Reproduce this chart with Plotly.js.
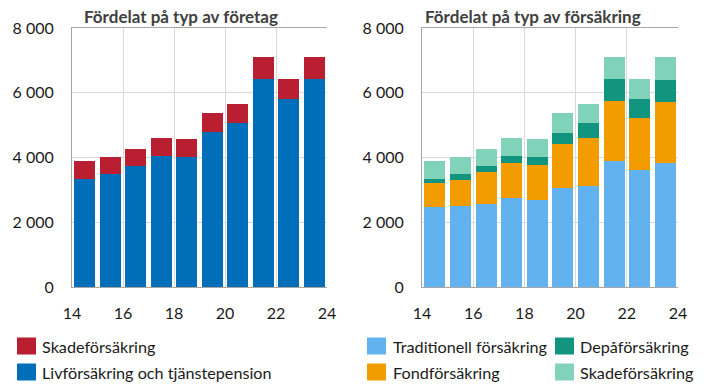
<!DOCTYPE html>
<html>
<head>
<meta charset="utf-8">
<script src="https://cdn.plot.ly/plotly-3.0.1.min.js"></script>
<style>
html,body{margin:0;padding:0;background:#fff;}
#chart{width:717px;height:392px;}
</style>
</head>
<body>
<div id="chart"></div>
<script>
// ---- data ----
const years = [2014, 2015, 2016, 2017, 2018, 2019, 2020, 2021, 2022, 2023];
const tickLabels = ['14', '16', '18', '20', '22', '24'];
const yTickValues = [0, 2000, 4000, 6000, 8000];
const yTickLabels = ['0', '2 000', '4 000', '6 000', '8 000'];

// Left: by type of company
const livTjanste = [3350, 3500, 3750, 4060, 4030, 4780, 5080, 6440, 5800, 6410];
const skadeForetag = [530, 510, 510, 550, 550, 580, 570, 670, 640, 680];

// Right: by type of insurance
const traditionell = [2460, 2500, 2550, 2740, 2700, 3070, 3130, 3890, 3600, 3840];
const fond = [750, 810, 990, 1100, 1070, 1350, 1460, 1860, 1620, 1880];
const depa = [140, 190, 210, 210, 260, 350, 480, 690, 580, 680];
const skadeForsakring = [530, 510, 510, 560, 550, 590, 580, 670, 640, 690];

const titleLeft = 'Fördelat på typ av företag';
const titleRight = 'Fördelat på typ av försäkring';

// ---- styles ----
const FONT = 'Lato, "Open Sans", sans-serif';
const C = {
  skadeF: '#B91F31', liv: '#006EB8',
  trad: '#62B2F0', fond: '#F39C00', depa: '#11957E', skade: '#80D2B8'
};

const W = 717, H = 392;
const px = v => v / W;
const py = v => 1 - v / H;

const leftDom = [px(72), px(327)];
const rightDom = [px(422), px(678)];
const yDom = [py(287), py(28)];

const tickVals = tickLabels.map(t => 2000 + Number(t) - 0.5);

function bar(y, name, color, xa, ya) {
  return { type: 'bar', x: years, y: y, name: name, xaxis: xa, yaxis: ya,
    marker: { color: color, line: { width: 0 } }, width: 0.82, showlegend: false,
    hoverinfo: 'x+y+name' };
}

const traces = [
  bar(livTjanste, 'Livförsäkring och tjänstepension', C.liv, 'x', 'y'),
  bar(skadeForetag, 'Skadeförsäkring', C.skadeF, 'x', 'y'),
  bar(traditionell, 'Traditionell försäkring', C.trad, 'x2', 'y2'),
  bar(fond, 'Fondförsäkring', C.fond, 'x2', 'y2'),
  bar(depa, 'Depåförsäkring', C.depa, 'x2', 'y2'),
  bar(skadeForsakring, 'Skadeförsäkring', C.skade, 'x2', 'y2')
];

function xAxis(dom, anchor) {
  return { domain: dom, anchor: anchor, range: [2013.5, 2023.5],
    tickvals: tickVals, ticktext: tickLabels, ticks: '',
    showgrid: true, gridcolor: '#d9d9d9', gridwidth: 1,
    showline: true, linecolor: '#a6a6a6', linewidth: 1, mirror: true,
    zeroline: false, ticklabelstandoff: 12,
    tickfont: { family: FONT, size: 16, color: '#1a1a1a' }, fixedrange: true };
}
function yAxis(anchor) {
  return { domain: yDom, anchor: anchor, range: [0, 8000],
    tickvals: yTickValues, ticktext: yTickLabels, ticks: '',
    showgrid: true, gridcolor: '#d9d9d9', gridwidth: 1,
    showline: true, linecolor: '#a6a6a6', linewidth: 1,
    zeroline: false, ticklabelstandoff: 14,
    tickfont: { family: FONT, size: 16, color: '#1a1a1a' }, fixedrange: true };
}
function yRight(anchor, over) {
  return { domain: yDom, anchor: anchor, overlaying: over, side: 'right', range: [0, 8000],
    tickvals: yTickValues.slice(1, 4), ticks: 'inside', ticklen: 7, tickcolor: '#595959',
    showticklabels: false, showgrid: false, zeroline: false,
    showline: true, linecolor: '#595959', linewidth: 1.5, fixedrange: true };
}

// legend entries
const legendItems = [
  { name: traces[1].name, color: C.skadeF, sx: 17, tx: 40, y: 346 },
  { name: traces[0].name, color: C.liv, sx: 17, tx: 40, y: 372 },
  { name: traces[2].name, color: C.trad, sx: 367, tx: 391, y: 346 },
  { name: traces[3].name, color: C.fond, sx: 367, tx: 391, y: 372 },
  { name: traces[4].name, color: C.depa, sx: 555, tx: 578, y: 346 },
  { name: traces[5].name, color: C.skade, sx: 555, tx: 578, y: 372 }
];

const shapes = legendItems.map(it => ({
  type: 'rect', xref: 'paper', yref: 'paper',
  x0: px(it.sx), x1: px(it.sx + 19), y0: py(it.y + 8.5), y1: py(it.y - 8.5),
  fillcolor: it.color, line: { width: 0 }
}));

const annotations = legendItems.map(it => ({
  xref: 'paper', yref: 'paper', x: px(it.tx), y: py(it.y), xanchor: 'left', yanchor: 'middle',
  text: it.name, showarrow: false, font: { family: FONT, size: 16.2, color: '#1a1a1a' }
}));
annotations.push(
  { xref: 'paper', yref: 'paper', x: px(82), y: py(16), xanchor: 'left', yanchor: 'middle',
    text: '<b>' + titleLeft + '</b>', showarrow: false, font: { family: FONT, size: 17, color: '#404040' } },
  { xref: 'paper', yref: 'paper', x: px(423), y: py(16), xanchor: 'left', yanchor: 'middle',
    text: '<b>' + titleRight + '</b>', showarrow: false, font: { family: FONT, size: 17, color: '#404040' } }
);

const layout = {
  width: W, height: H, margin: { l: 0, r: 0, t: 0, b: 0 },
  paper_bgcolor: '#fff', plot_bgcolor: '#fff',
  barmode: 'stack', bargap: 0, showlegend: false,
  font: { family: FONT },
  xaxis: xAxis(leftDom, 'y'),
  yaxis: yAxis('x'),
  xaxis2: xAxis(rightDom, 'y2'),
  yaxis2: yAxis('x2'),
  yaxis3: yRight('x', 'y'),
  yaxis4: yRight('x2', 'y2'),
  shapes: shapes,
  annotations: annotations
};

Plotly.newPlot('chart', traces, layout, { displayModeBar: false, staticPlot: true });
</script>
</body>
</html>
